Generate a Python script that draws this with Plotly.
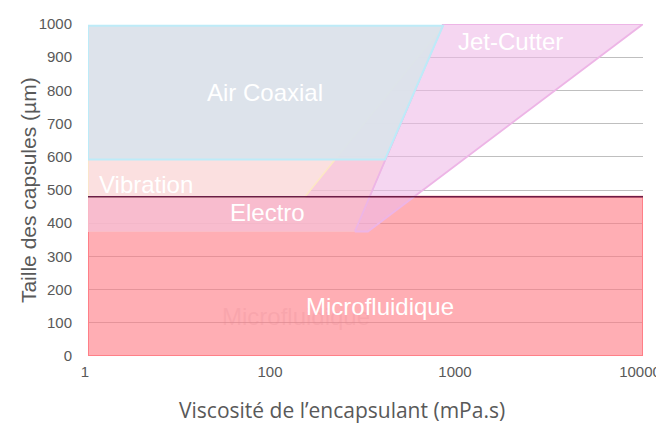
import math
import plotly.graph_objects as go

# ---- data ----
x_tickvals = [10, 100, 1000, 10000]
x_ticktext = ["1", "100", "1000", "10000"]
y_tickvals = [0, 100, 200, 300, 400, 500, 600, 700, 800, 900, 1000]

micro_x = [10, 10000, 10000, 10]
micro_y = [0, 0, 480, 480]
electro_x = [10, 277, 830, 10]
electro_y = [375, 375, 995, 995]
vibration_x = [10, 149, 830, 10]
vibration_y = [480, 480, 995, 995]
jet_x = [277, 326, 10000, 830]
jet_y = [375, 375, 1000, 1000]
air_x = [10, 403, 830, 10]
air_y = [592, 592, 995, 995]
limit_x = [10, 10000]
limit_y = [480, 480]

label_text = ["Air Coaxial", "Jet-Cutter", "Vibration", "Electro", "Microfluidique"]
label_x = [90.6, 1930, 20.6, 92.8, 378]
label_y = [795, 946, 518, 431, 148]
ghost_text = "Microfluidique"
ghost_x = 133
ghost_y = 120

x_title = "Viscosité de l’encapsulant (mPa.s)"
y_title = "Taille des capsules (µm)"

fig = go.Figure()

def region(xs, ys, fill, line, width):
    fig.add_trace(go.Scatter(
        x=xs + xs[:1], y=ys + ys[:1], mode="lines", fill="toself",
        fillcolor=fill, line=dict(color=line, width=width),
        hoverinfo="skip", showlegend=False))

region(micro_x, micro_y, "rgba(255,120,130,0.6)", "#FF7F87", 2)
region(electro_x, electro_y, "rgba(246,191,212,0.8)", "rgba(250,190,200,0.9)", 1.2)
region(vibration_x, vibration_y, "rgba(251,224,224,0.97)", "#FCE8C4", 1.5)
region(jet_x, jet_y, "rgba(238,187,232,0.6)", "#EDB5E6", 1.8)
region(air_x, air_y, "rgba(218,227,236,0.93)", "#BDEBF8", 2)

fig.add_trace(go.Scatter(x=limit_x, y=limit_y, mode="lines",
                         line=dict(color="#6B1D47", width=1.5),
                         hoverinfo="skip", showlegend=False))

# annotations on a log axis take log10 coordinates
fig.add_annotation(x=math.log10(ghost_x), y=ghost_y, xref="x", yref="y",
                   text=ghost_text, showarrow=False,
                   font=dict(family="Liberation Sans, Arial", size=24,
                             color="rgba(225,135,145,0.22)"))
for t, xv, yv in zip(label_text, label_x, label_y):
    fig.add_annotation(x=math.log10(xv), y=yv, xref="x", yref="y", text=t,
                       showarrow=False,
                       font=dict(family="Liberation Sans, Arial", size=24,
                                 color="white"))

# axis titles as annotations
fig.add_annotation(x=-0.108, y=0.5, xref="paper", yref="paper", text=y_title,
                   textangle=-90, showarrow=False, xanchor="center", yanchor="middle",
                   font=dict(family="Liberation Sans, Arial", size=21, color="#595959"))
fig.add_annotation(x=0.458, y=-0.163, xref="paper", yref="paper", text=x_title,
                   showarrow=False, xanchor="center", yanchor="middle",
                   font=dict(family="Open Sans", size=21, color="#595959"))

fig.update_layout(
    width=664, height=430,
    margin=dict(l=80, r=29, t=16, b=82, autoexpand=False),
    plot_bgcolor="white", paper_bgcolor="white",
    showlegend=False,
    font=dict(family="Liberation Sans, Arial", color="#595959"),
)
fig.update_xaxes(
    type="log", range=[1, 4], automargin=False,
    tickvals=x_tickvals, ticktext=x_ticktext,
    showgrid=False, zeroline=False, showline=False,
    ticks="outside", ticklen=2, tickcolor="rgba(0,0,0,0)",
    ticklabelshift=-3,
    tickfont=dict(size=15, color="#595959", family="Liberation Sans, Arial"),
)
fig.update_yaxes(
    range=[0, 1000], tickvals=y_tickvals, automargin=False,
    showgrid=True, gridcolor="#BFBFBF", gridwidth=1,
    zeroline=False, showline=False,
    ticks="outside", ticklen=12, tickcolor="rgba(0,0,0,0)",
    tickfont=dict(size=15, color="#595959", family="Liberation Sans, Arial"),
)

fig.write_html("out.html")
